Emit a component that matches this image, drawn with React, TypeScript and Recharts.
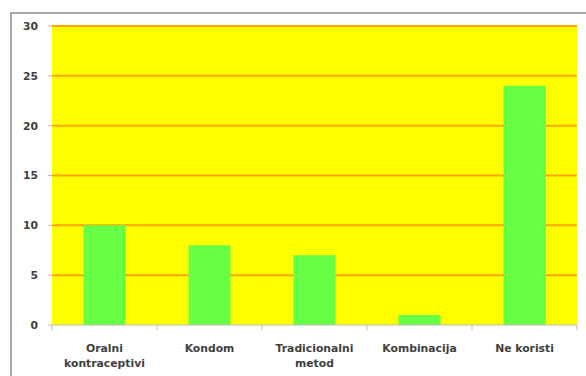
import { BarChart, Bar, XAxis, YAxis, CartesianGrid } from 'recharts';

const categories = [
  ['Oralni', 'kontraceptivi'],
  ['Kondom'],
  ['Tradicionalni', 'metod'],
  ['Kombinacija'],
  ['Ne koristi'],
];
const counts = [10, 8, 7, 1, 24];
const yTicks = [0, 5, 10, 15, 20, 25, 30];

const data = categories.map((lines, i) => ({ name: lines.join(' '), lines, value: counts[i] }));

const W = 586;
const H = 376;
const margin = { top: 26, right: 9, bottom: 6, left: 12 };
const Y_AXIS_W = 40;
const X_AXIS_H = 45;
const halfBand = (W - margin.left - Y_AXIS_W - margin.right) / categories.length / 2;

const font = '"DejaVu Sans", sans-serif';

function CategoryTick({ x, y, payload, index }: any) {
  const lines: string[] = data[index]?.lines ?? [payload.value];
  return (
    <g>
      <line x1={x - halfBand} x2={x - halfBand} y1={y} y2={y + 5} stroke="#bdbdbd" />
      {index === categories.length - 1 && (
        <line x1={x + halfBand} x2={x + halfBand} y1={y} y2={y + 5} stroke="#bdbdbd" />
      )}
      {lines.map((t, i) => (
        <text key={i} x={x} y={y + 27 + i * 15} textAnchor="middle" fontSize={10.8} fontWeight="bold" fontFamily={font} fill="#404040">
          {t}
        </text>
      ))}
    </g>
  );
}

export default function App() {
  return (
    <div style={{ position: 'absolute', left: 0, top: 0, width: W, height: H, background: '#fff', overflow: 'hidden' }}>
      <div style={{ position: 'absolute', left: 10, top: 12, width: W, height: H, border: '2px solid #a8a8a8', boxSizing: 'border-box' }} />
      <div style={{ position: 'absolute', left: 0, top: 0 }}>
        <BarChart width={W} height={H} data={data} margin={margin} barCategoryGap="30%">
          <CartesianGrid fill="#ffff00" stroke="#ffa500" strokeWidth={2} vertical={false} horizontalValues={yTicks.slice(1)} />
          <XAxis
            dataKey="name"
            height={X_AXIS_H}
            axisLine={{ stroke: '#bdbdbd' }}
            tickLine={false}
            tickSize={0}
            tickMargin={0}
            interval={0}
            tick={<CategoryTick />}
          />
          <YAxis
            width={Y_AXIS_W}
            domain={[0, 30]}
            ticks={yTicks}
            axisLine={false}
            tickLine={{ stroke: '#bdbdbd' }}
            tickSize={4}
            tickMargin={10}
            tick={{ fontSize: 10.8, fontWeight: 'bold', fontFamily: font, fill: '#404040' }}
          />
          <Bar dataKey="value" fill="#66ff44" isAnimationActive={false} />
        </BarChart>
      </div>
    </div>
  );
}
